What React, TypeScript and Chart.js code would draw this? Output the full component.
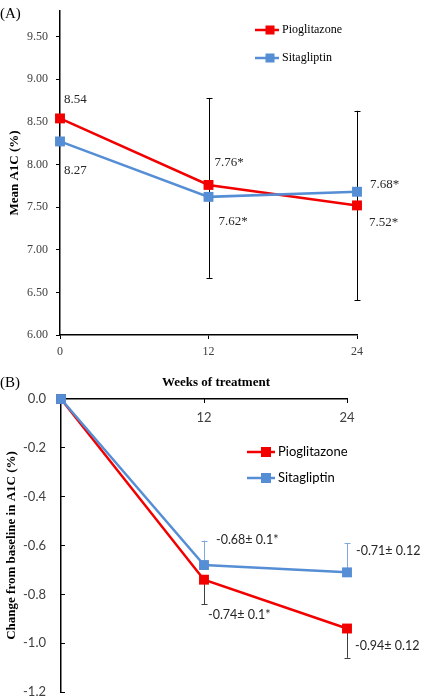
import React, { useEffect, useRef } from 'react';
import { Chart, registerables } from 'chart.js';

Chart.register(...registerables);

// ---------- data ----------
const weeks = [0, 12, 24];
const weekTickLabelsB = ['', '12', '24'];

const pioMean = [8.54, 7.76, 7.52];
const sitaMean = [8.27, 7.62, 7.68];
const pioMeanLabels = ['8.54', '7.76*', '7.52*'];
const sitaMeanLabels = ['8.27', '7.62*', '7.68*'];
const meanErrLow = [null, 6.67, 6.41];
const meanErrHigh = [null, 8.78, 8.63];

const pioChange = [0, -0.74, -0.94];
const sitaChange = [0, -0.68, -0.71];
const pioChangeLabels = ['', '-0.74\u00b1 0.1*', '-0.94\u00b1 0.12'];
const sitaChangeLabels = ['', '-0.68\u00b1 0.1*', '-0.71\u00b1 0.12'];
const pioChangeErrLow = [null, -0.84, -1.06];
const sitaChangeErrHigh = [null, -0.58, -0.59];

const seriesNames = ['Pioglitazone', 'Sitagliptin'];

// ---------- styles ----------
const RED = '#F20000';
const BLUE = '#558ED5';
const SERIF = 'Liberation Serif';
const SANS = 'Lato';
const TICK_COLOR = '#404040';

type ErrCfg = { datasetIndex: number; low: (number | null)[] | null; high: (number | null)[] | null; color: string; cap: number };
type LabelCfg = { datasetIndex: number; labels: string[]; offsets: ([number, number] | null)[]; font: string; color: string };
type TextCfg = { text: string; x: number; y: number; font: string; color: string; align?: CanvasTextAlign };
type LegendCfg = { x1: number; x2: number; mx: number; tx: number; ys: number[]; colors: string[]; font: string; color: string; size: number };

const errorBarPlugin = {
  id: 'errorBars',
  beforeDatasetsDraw(chart: any, _args: any, opts: any) {
    const list: ErrCfg[] = opts.bars || [];
    const ctx = chart.ctx;
    const ys = chart.scales.y;
    ctx.save();
    list.forEach((cfg) => {
      const meta = chart.getDatasetMeta(cfg.datasetIndex);
      const ds = chart.data.datasets[cfg.datasetIndex];
      meta.data.forEach((pt: any, i: number) => {
        const lo = cfg.low ? cfg.low[i] : null;
        const hi = cfg.high ? cfg.high[i] : null;
        if (lo == null && hi == null) return;
        const v = ds.data[i].y;
        const yLo = ys.getPixelForValue(lo == null ? v : lo);
        const yHi = ys.getPixelForValue(hi == null ? v : hi);
        const x = Math.round(pt.x) + 0.5;
        ctx.strokeStyle = cfg.color;
        ctx.lineWidth = 1;
        ctx.beginPath();
        ctx.moveTo(x, yLo);
        ctx.lineTo(x, yHi);
        if (lo != null) {
          ctx.moveTo(x - cfg.cap, Math.round(yLo) + 0.5);
          ctx.lineTo(x + cfg.cap, Math.round(yLo) + 0.5);
        }
        if (hi != null) {
          ctx.moveTo(x - cfg.cap, Math.round(yHi) + 0.5);
          ctx.lineTo(x + cfg.cap, Math.round(yHi) + 0.5);
        }
        ctx.stroke();
      });
    });
    ctx.restore();
  },
};

const pointLabelPlugin = {
  id: 'pointLabels',
  afterDatasetsDraw(chart: any, _args: any, opts: any) {
    const list: LabelCfg[] = opts.items || [];
    const ctx = chart.ctx;
    ctx.save();
    ctx.textAlign = 'left';
    ctx.textBaseline = 'middle';
    list.forEach((cfg) => {
      const meta = chart.getDatasetMeta(cfg.datasetIndex);
      meta.data.forEach((pt: any, i: number) => {
        const off = cfg.offsets[i];
        const t = cfg.labels[i];
        if (!off || !t) return;
        ctx.font = cfg.font;
        ctx.fillStyle = cfg.color;
        ctx.fillText(t, pt.x + off[0], pt.y + off[1]);
      });
    });
    ctx.restore();
  },
};

const textPlugin = {
  id: 'freeText',
  afterDraw(chart: any, _args: any, opts: any) {
    const list: TextCfg[] = opts.items || [];
    const ctx = chart.ctx;
    ctx.save();
    ctx.textBaseline = 'middle';
    list.forEach((t) => {
      ctx.font = t.font;
      ctx.fillStyle = t.color;
      ctx.textAlign = t.align || 'left';
      ctx.fillText(t.text, t.x, t.y);
    });
    // x tick labels drawn below a top axis
    const xt = opts.xTicks;
    if (xt) {
      const xs = chart.scales.x;
      ctx.font = xt.font;
      ctx.fillStyle = xt.color;
      ctx.textAlign = 'center';
      xt.values.forEach((v: number, i: number) => {
        if (!xt.labels[i]) return;
        ctx.fillText(xt.labels[i], xs.getPixelForValue(v), xs.bottom + xt.dy);
      });
    }
    ctx.restore();
  },
};

const legendPlugin = {
  id: 'customLegend',
  afterDraw(chart: any, _args: any, opts: any) {
    const lg: LegendCfg = opts.legend;
    if (!lg) return;
    const ctx = chart.ctx;
    ctx.save();
    seriesNames.forEach((name, i) => {
      const y = lg.ys[i];
      ctx.strokeStyle = lg.colors[i];
      ctx.lineWidth = 2.5;
      ctx.beginPath();
      ctx.moveTo(lg.x1, y);
      ctx.lineTo(lg.x2, y);
      ctx.stroke();
      ctx.fillStyle = lg.colors[i];
      ctx.fillRect(lg.mx - lg.size / 2, y - lg.size / 2, lg.size, lg.size);
      ctx.font = lg.font;
      ctx.fillStyle = lg.color;
      ctx.textAlign = 'left';
      ctx.textBaseline = 'middle';
      ctx.fillText(name, lg.tx, y);
    });
    ctx.restore();
  },
};

const toXY = (vals: number[]) => vals.map((v, i) => ({ x: weeks[i], y: v }));

function lineDataset(label: string, vals: number[], color: string, order: number) {
  return {
    label,
    data: toXY(vals),
    borderColor: color,
    backgroundColor: color,
    borderWidth: 2.5,
    pointStyle: 'rect',
    pointRadius: 7,
    pointBorderWidth: 0,
    pointBackgroundColor: color,
    tension: 0,
    clip: false,
    order,
  };
}

const zeroPad = (s: any) => { s.paddingTop = 0; s.paddingBottom = 0; s.paddingLeft = 0; s.paddingRight = 0; };

function ChartA() {
  const ref = useRef<HTMLCanvasElement>(null);
  useEffect(() => {
    const chart = new Chart(ref.current as HTMLCanvasElement, {
      type: 'line',
      data: {
        datasets: [
          lineDataset(seriesNames[0], pioMean, RED, 1),
          lineDataset(seriesNames[1], sitaMean, BLUE, 0),
        ] as any,
      },
      plugins: [errorBarPlugin, pointLabelPlugin, textPlugin, legendPlugin],
      options: {
        animation: false,
        responsive: false,
        maintainAspectRatio: false,
        devicePixelRatio: 1,
        layout: { padding: { left: 0, top: 11, right: 64, bottom: 0 } },
        plugins: {
          legend: { display: false },
          tooltip: { enabled: false },
          errorBars: {
            bars: [{ datasetIndex: 0, low: meanErrLow, high: meanErrHigh, color: '#000', cap: 3 }],
          },
          pointLabels: {
            items: [
              { datasetIndex: 0, labels: pioMeanLabels, offsets: [[4, -19], [6, -22], [12, 17]], font: `13px "${SERIF}"`, color: '#262626' },
              { datasetIndex: 1, labels: sitaMeanLabels, offsets: [[4, 29], [10, 25], [13, -7]], font: `13px "${SERIF}"`, color: '#262626' },
            ],
          },
          freeText: {
            items: [{ text: '(A)', x: 0, y: 14, font: `15px "${SERIF}"`, color: '#000' }],
          },
          customLegend: {
            legend: { x1: 255, x2: 279, mx: 270, tx: 282, ys: [30, 58], colors: [RED, BLUE], font: `12px "${SERIF}"`, color: '#000', size: 9 },
          },
        } as any,
        scales: {
          x: {
            type: 'linear',
            position: 'bottom',
            min: 0,
            max: 24,
            afterFit: (s: any) => { s.height = 20; zeroPad(s); },
            ticks: { stepSize: 12, padding: 6, font: { family: SERIF, size: 12 }, color: TICK_COLOR },
            grid: { drawOnChartArea: false, drawTicks: true, tickLength: 4, color: '#000', lineWidth: 1 },
            border: { display: true, color: '#000', width: 1.5 },
          },
          y: {
            min: 6,
            max: 9.8,
            afterFit: (s: any) => { s.width = 60; zeroPad(s); },
            afterBuildTicks: (s: any) => {
              s.ticks = s.ticks.filter((t: any) => Math.abs(t.value * 2 - Math.round(t.value * 2)) < 1e-6);
            },
            ticks: {
              stepSize: 0.5,
              padding: 8,
              font: { family: SERIF, size: 12 },
              color: TICK_COLOR,
              callback: (v: any) => Number(v).toFixed(2),
            },
            grid: { drawOnChartArea: false, drawTicks: true, tickLength: 4, color: '#000', lineWidth: 1 },
            border: { display: true, color: '#000', width: 1.5 },
            title: {
              display: true,
              text: 'Mean A1C (%)',
              font: { family: SERIF, size: 13, weight: 'bold' },
              color: '#000',
              padding: { top: 7, bottom: 0 },
            },
          },
        } as any,
      },
    });
    return () => chart.destroy();
  }, []);
  return <canvas ref={ref} width={421} height={355} style={{ position: 'absolute', left: 0, top: 0, width: 421, height: 355 }} />;
}

function ChartB() {
  const ref = useRef<HTMLCanvasElement>(null);
  useEffect(() => {
    const chart = new Chart(ref.current as HTMLCanvasElement, {
      type: 'line',
      data: {
        datasets: [
          lineDataset(seriesNames[0], pioChange, RED, 1),
          lineDataset(seriesNames[1], sitaChange, BLUE, 0),
        ] as any,
      },
      plugins: [errorBarPlugin, pointLabelPlugin, textPlugin, legendPlugin],
      options: {
        animation: false,
        responsive: false,
        maintainAspectRatio: false,
        devicePixelRatio: 1,
        layout: { padding: { left: 0, top: 0, right: 74, bottom: 8 } },
        plugins: {
          legend: { display: false },
          tooltip: { enabled: false },
          errorBars: {
            bars: [
              { datasetIndex: 0, low: pioChangeErrLow, high: null, color: '#404040', cap: 3 },
              { datasetIndex: 1, low: null, high: sitaChangeErrHigh, color: '#7FA8DE', cap: 3 },
            ],
          },
          pointLabels: {
            items: [
              { datasetIndex: 0, labels: pioChangeLabels, offsets: [null, [4, 35], [8, 17]], font: `12.5px "${SANS}"`, color: '#262626' },
              { datasetIndex: 1, labels: sitaChangeLabels, offsets: [null, [12, -25], [9, -21]], font: `12.5px "${SANS}"`, color: '#262626' },
            ],
          },
          freeText: {
            items: [
              { text: '(B)', x: 0, y: 28, font: `15px "${SERIF}"`, color: '#000' },
              { text: 'Weeks of treatment', x: 216, y: 28, font: `bold 13px "${SERIF}"`, color: '#000', align: 'center' },
            ],
            xTicks: { values: weeks, labels: weekTickLabelsB, font: `13px "${SANS}"`, color: TICK_COLOR, dy: 19 },
          },
          customLegend: {
            legend: { x1: 247, x2: 275, mx: 266, tx: 278, ys: [97, 123], colors: [RED, BLUE], font: `13px "${SANS}"`, color: '#000', size: 10 },
          },
        } as any,
        scales: {
          x: {
            type: 'linear',
            position: 'top',
            min: 0,
            max: 24,
            afterFit: (s: any) => { s.height = 44; zeroPad(s); },
            ticks: { stepSize: 12, display: false },
            grid: { drawOnChartArea: false, drawTicks: true, tickLength: -4, color: '#000', lineWidth: 1 },
            border: { display: true, color: '#000', width: 1.5 },
          },
          y: {
            min: -1.2,
            max: 0,
            afterFit: (s: any) => { s.width = 61; zeroPad(s); },
            ticks: {
              stepSize: 0.2,
              padding: 19,
              font: { family: SANS, size: 13 },
              color: TICK_COLOR,
              callback: (v: any) => {
                const r = Math.round(Number(v) * 10) / 10;
                return r === 0 ? '0.0' : r.toFixed(1);
              },
            },
            grid: { drawOnChartArea: false, drawTicks: true, tickLength: -4, color: '#000', lineWidth: 1 },
            border: { display: true, color: '#000', width: 1.5 },
            title: {
              display: true,
              text: 'Change from baseline in A1C (%)',
              font: { family: SERIF, size: 13, weight: 'bold' },
              color: '#000',
              padding: { top: 4, bottom: 0 },
            },
          },
        } as any,
      },
    });
    return () => chart.destroy();
  }, []);
  return <canvas ref={ref} width={421} height={345} style={{ position: 'absolute', left: 0, top: 355, width: 421, height: 345 }} />;
}

export default function App() {
  return (
    <div style={{ position: 'fixed', left: 0, top: 0, width: 421, height: 696, overflow: 'hidden', background: '#fff' }}>
      <ChartA />
      <ChartB />
    </div>
  );
}
